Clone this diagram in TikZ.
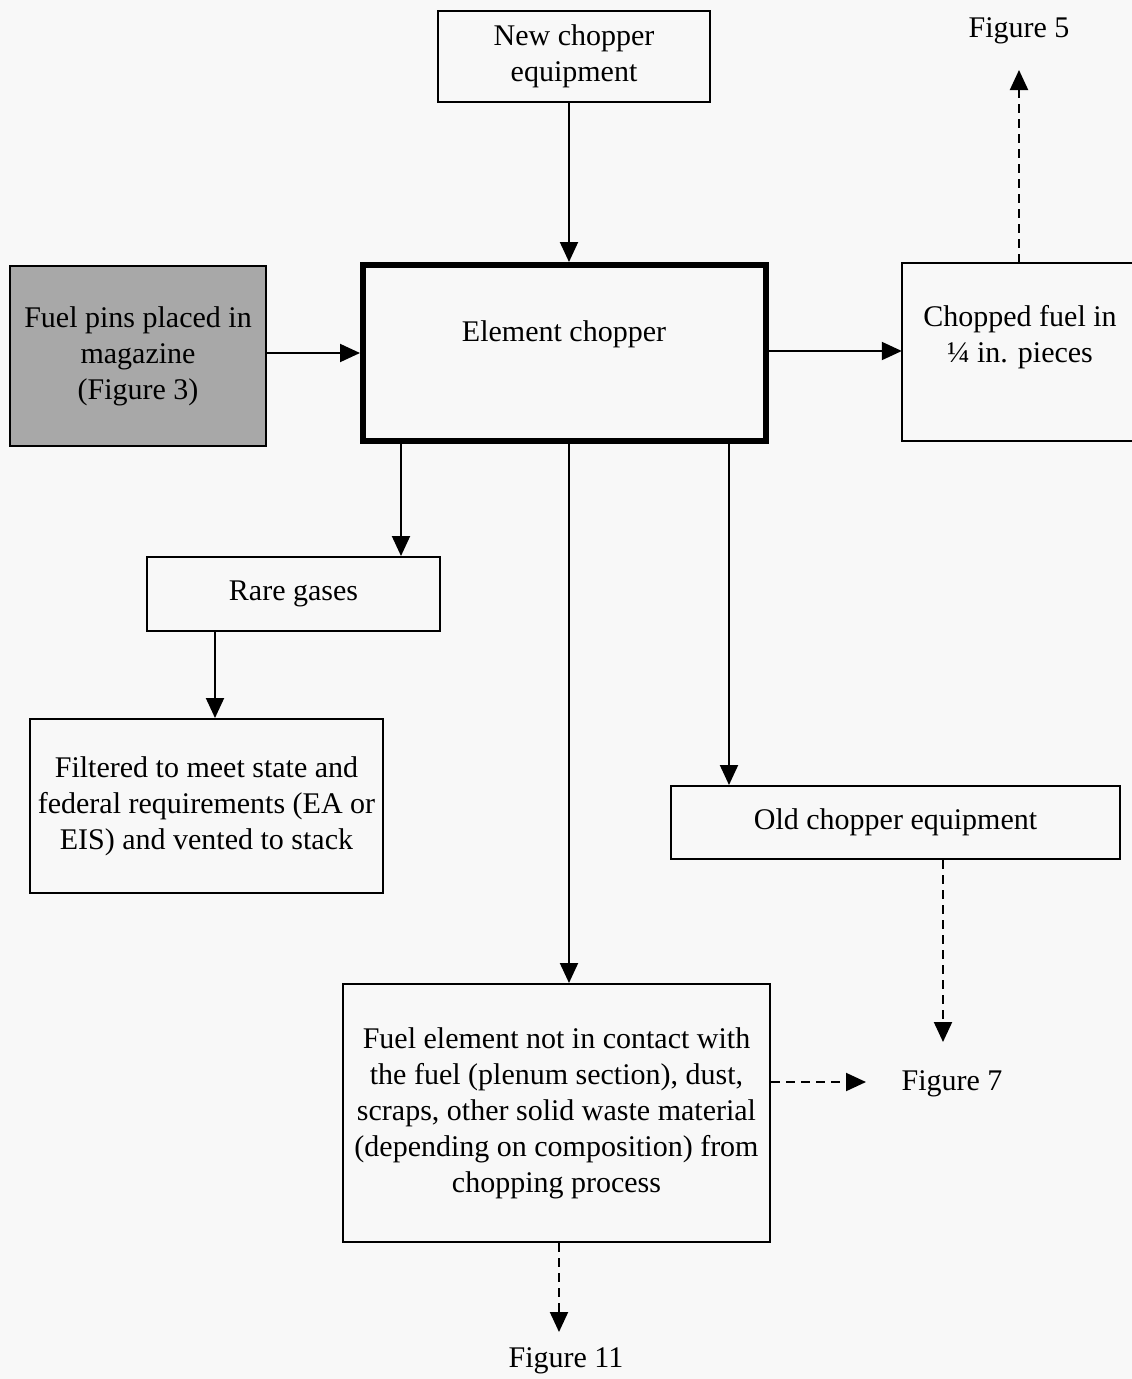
\documentclass[tikz,border=0pt]{standalone}
\usepackage{fontspec}
\setmainfont{Liberation Serif}
\usetikzlibrary{arrows.meta}
\definecolor{paper}{RGB}{248,248,248}
\definecolor{shade}{RGB}{168,168,168}
\begin{document}
\begin{tikzpicture}[x=1pt,y=-1pt,
  box/.style={draw, line width=2pt, inner sep=0pt, align=center,
    font=\fontsize{30}{36}\selectfont},
  txt/.style={inner sep=0pt, align=center, font=\fontsize{30}{36}\selectfont},
  flow/.style={line width=2pt, -{Triangle[length=20pt,width=18pt]}},
  dflow/.style={flow, dash pattern=on 9pt off 6pt}]
\fill[paper] (0,0) rectangle (1132,1379);
\useasboundingbox (0,0) rectangle (1132,1379);

% process boxes
\node[box, minimum width=272, minimum height=91] (new) at (574,56.5)
  {New chopper\\equipment};
\node[box, line width=6pt, minimum width=403, minimum height=176] (element) at (564.5,353) {};
\node[txt] (elementtxt) at (564,334) {Element chopper};
\node[box, fill=shade, minimum width=256, minimum height=180] (pins) at (138,356)
  {Fuel pins placed in\\magazine\\(Figure 3)};
\node[inner sep=0pt, minimum width=238, minimum height=178] (chopped) at (1021,352) {};
\draw[line width=2pt] (chopped.north east) -- (chopped.north west)
  -- (chopped.south west) -- (chopped.south east);
\node[txt] (choppedtxt) at (1020,337) {Chopped fuel in\\¼ in. pieces};
\node[box, minimum width=293, minimum height=74] (rare) at (293.5,594) {Rare gases};
\node[box, minimum width=353, minimum height=174] (filtered) at (206.5,806)
  {Filtered to meet state and\\federal requirements (EA or\\EIS) and vented to stack};
\node[box, minimum width=449, minimum height=73] (old) at (895.5,822.5)
  {Old chopper equipment};
\node[box, minimum width=427, minimum height=258] (waste) at (556.5,1113)
  {Fuel element not in contact with\\the fuel (plenum section), dust,\\scraps, other solid waste material\\(depending on composition) from\\chopping process};

% references to other figures
\node[txt] (fig5) at (1019,31) {Figure 5};
\node[txt] (fig7) at (952,1084) {Figure 7};
\node[txt] (fig11) at (566,1361) {Figure 11};
\coordinate (fig5tip) at (1019,70);
\coordinate (fig7top) at (943,1042);
\coordinate (fig7left) at (866,1082);
\coordinate (fig11tip) at (559,1332);

% guide lines for the connectors
\coordinate (cmain) at (569,0);
\coordinate (crare) at (401,0);
\coordinate (cfilt) at (215,0);
\coordinate (cold) at (729,0);
\coordinate (cfive) at (1019,0);
\coordinate (cseven) at (943,0);
\coordinate (celeven) at (559,0);
\coordinate (rin) at (0,353);
\coordinate (rout) at (0,351);
\coordinate (rwaste) at (0,1082);

% solid flows
\draw[flow] (new.south -| cmain) -- (element.north -| cmain);
\draw[flow] (pins.east |- rin) -- (element.west |- rin);
\draw[flow] (element.east |- rout) -- (chopped.west |- rout);
\draw[flow] (element.south -| crare) -- (rare.north -| crare);
\draw[flow] (rare.south -| cfilt) -- (filtered.north -| cfilt);
\draw[flow] (element.south -| cold) -- (old.north -| cold);
\draw[flow] (element.south -| cmain) -- (waste.north -| cmain);

% dashed flows to other figures
\draw[dflow] (chopped.north -| cfive) -- (fig5tip);
\draw[dflow] (old.south -| cseven) -- (fig7top);
\draw[dflow] (waste.east |- rwaste) -- (fig7left);
\draw[dflow] (waste.south -| celeven) -- (fig11tip);
\end{tikzpicture}
\end{document}
